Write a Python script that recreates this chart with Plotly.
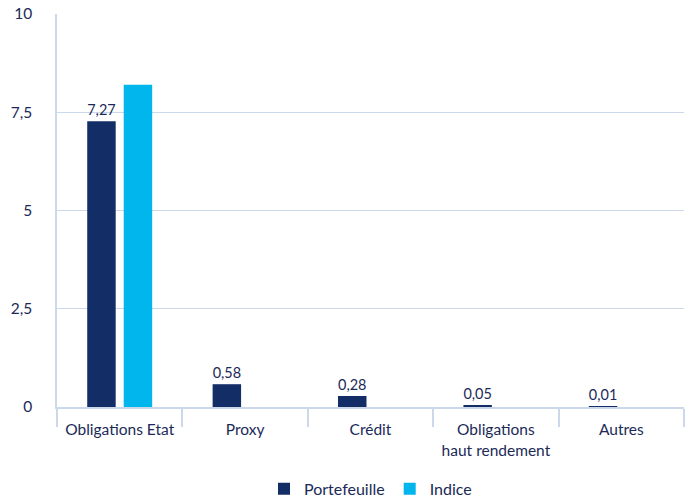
import plotly.graph_objects as go

categories = ["Obligations Etat", "Proxy", "Crédit", "Obligations<br>haut rendement", "Autres"]
portefeuille = [7.27, 0.58, 0.28, 0.05, 0.01]
indice = [8.2, 0, 0, 0, 0]
y_ticks = [0, 2.5, 5, 7.5, 10]
y_ticktext = ["0", "2,5", "5", "7,5", "10"]

navy = "#132d66"
cyan = "#00b6ec"
ink = "#1b2a57"
grid = "#cbd8ea"

fig = go.Figure()
fig.add_trace(go.Bar(
    x=categories, y=portefeuille, name="Portefeuille",
    marker=dict(color=navy, line=dict(width=0)),
    text=portefeuille, texttemplate="%{y:.2f}", textposition="outside",
    textfont=dict(color=ink, size=15.5), cliponaxis=False,
))
fig.add_trace(go.Bar(
    x=categories, y=indice, name="Indice",
    marker=dict(color=cyan, line=dict(width=0)),
    hoverinfo="y",
))

fig.update_layout(
    width=695, height=500,
    margin=dict(l=57, r=11, t=14, b=93, autoexpand=False),
    paper_bgcolor="white", plot_bgcolor="white",
    separators=", ",
    barmode="group", bargap=0.418, bargroupgap=0.22,
    font=dict(family="Lato, sans-serif", size=15, color=ink),
    showlegend=True,
    legend=dict(orientation="h", x=0.5, xanchor="center", y=-0.165, yanchor="top",
                font=dict(size=16, color=ink), itemwidth=30, traceorder="normal"),
)
fig.update_xaxes(
    automargin=False,
    showgrid=False, showline=True, linecolor=grid, linewidth=1.5,
    tickson="boundaries", ticks="outside", ticklen=18, tickcolor=grid, tickwidth=1.5,
    ticklabelstandoff=8,
    tickfont=dict(size=15.5, color=ink),
)
fig.update_yaxes(
    automargin=False,
    range=[0, 10], tickvals=y_ticks, ticktext=y_ticktext,
    showgrid=True, gridcolor=grid, gridwidth=1.2,
    showline=True, linecolor=grid, linewidth=1.5,
    zeroline=False, ticks="", ticklabelstandoff=20,
    tickfont=dict(size=15.5, color=ink),
)

fig.write_html("out.html")
